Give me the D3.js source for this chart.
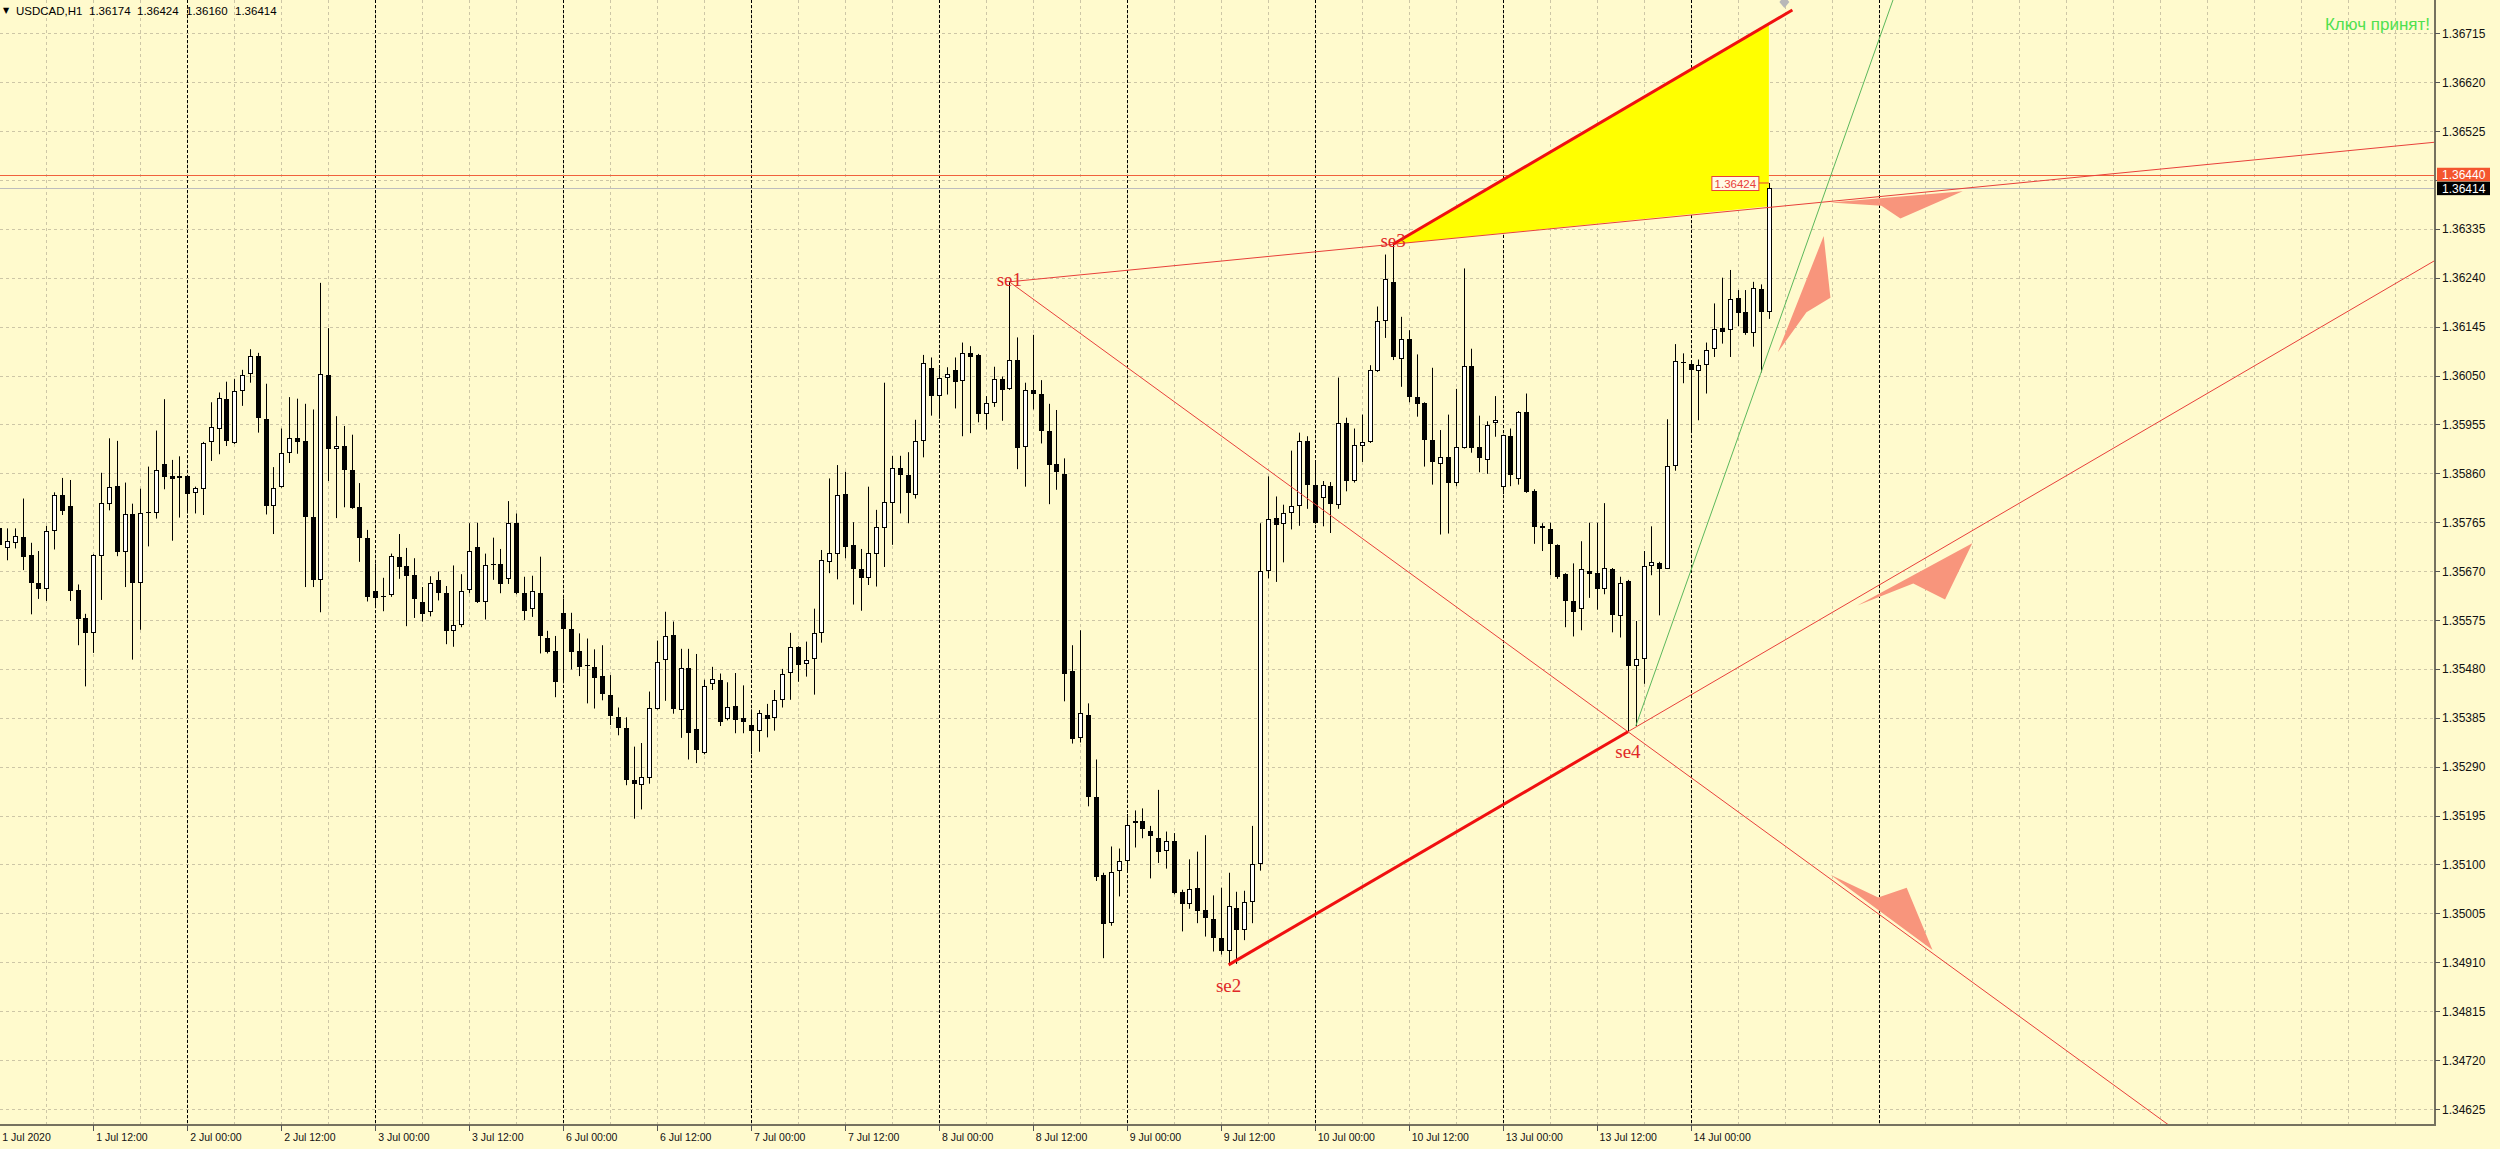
<!DOCTYPE html>
<html><head><meta charset="utf-8">
<script src="https://cdn.jsdelivr.net/npm/d3@7"></script>
<style>html,body{margin:0;padding:0;background:#fffacd;overflow:hidden}</style>
</head><body>
<svg id="chart" width="2500" height="1149"></svg>
<script>
// ---------------- DATA ----------------
const symbolName = "USDCAD,H1";
const timeLabels = ["1 Jul 2020","1 Jul 12:00","2 Jul 00:00","2 Jul 12:00","3 Jul 00:00","3 Jul 12:00","6 Jul 00:00","6 Jul 12:00","7 Jul 00:00","7 Jul 12:00","8 Jul 00:00","8 Jul 12:00","9 Jul 00:00","9 Jul 12:00","10 Jul 00:00","10 Jul 12:00","13 Jul 00:00","13 Jul 12:00","14 Jul 00:00"];
const timeLabelBars = [0,12,24,36,48,60,72,84,96,108,120,132,144,156,168,180,192,204,216];
const daySeparatorBars = [24,48,72,96,120,144,168,192,216,240];
const priceTicks = [1.34625,1.34720,1.34815,1.34910,1.35005,1.35100,1.35195,1.35290,1.35385,1.35480,1.35575,1.35670,1.35765,1.35860,1.35955,1.36050,1.36145,1.36240,1.36335,1.36430,1.36525,1.36620,1.36715];

const openP = [
1.35753,1.35714,1.35725,1.35736,1.35701,1.35647,1.35635,1.35748,1.35817,1.35796,
1.35634,1.35578,1.35550,1.35700,1.35801,1.35836,1.35707,1.35781,1.35647,1.35784,
1.35783,1.35879,1.35854,1.35850,1.35854,1.35821,1.35829,1.35921,1.35947,1.36004,
1.35919,1.36019,1.36052,1.36087,1.35966,1.35797,1.35834,1.35900,1.35928,1.35923,
1.35775,1.35653,1.36051,1.35907,1.35914,1.35867,1.35794,1.35734,1.35631,1.35622,
1.35623,1.35697,1.35679,1.35663,1.35610,1.35590,1.35652,1.35627,1.35554,1.35565,
1.35634,1.35716,1.35610,1.35684,1.35684,1.35654,1.35764,1.35627,1.35596,1.35627,
1.35541,1.35515,1.35589,1.35558,1.35515,1.35487,1.35483,1.35466,1.35429,1.35386,
1.35366,1.35265,1.35255,1.35268,1.35403,1.35497,1.35546,1.35401,1.35481,1.35364,
1.35316,1.35450,1.35459,1.35382,1.35408,1.35384,1.35371,1.35360,1.35391,1.35385,
1.35420,1.35473,1.35522,1.35489,1.35499,1.35550,1.35688,1.35704,1.35819,1.35720,
1.35674,1.35656,1.35704,1.35753,1.35803,1.35870,1.35857,1.35818,1.35923,1.36064,
1.36010,1.36045,1.36061,1.36039,1.36094,1.36089,1.35976,1.35997,1.36043,1.36024,
1.36081,1.35912,1.36021,1.36014,1.35943,1.35878,1.35858,1.35476,1.35346,1.35391,
1.35231,1.35080,1.34986,1.35088,1.35106,1.35181,1.35185,1.35166,1.35152,1.35126,
1.35145,1.35047,1.35023,1.35055,1.35012,1.34994,1.34958,1.34931,1.35016,1.34973,
1.35028,1.35100,1.35670,1.35773,1.35762,1.35782,1.35797,1.35922,1.35837,1.35812,
1.35835,1.35798,1.35957,1.35846,1.35913,1.35921,1.36059,1.36155,1.36232,1.36083,
1.36120,1.36008,1.35996,1.35924,1.35879,1.35892,1.35842,1.35910,1.36068,1.35911,
1.35886,1.35957,1.35833,1.35932,1.35849,1.35979,1.35826,1.35757,1.35752,1.35720,
1.35664,1.35612,1.35597,1.35671,1.35666,1.35635,1.35675,1.35582,1.35650,1.35486,
1.35499,1.35679,1.35685,1.35675,1.35874,1.36076,1.36073,1.36059,1.36071,1.36102,
1.36142,1.36138,1.36201,1.36173,1.36133,1.36218,1.36174];
const highP = [
1.35762,1.35753,1.35753,1.35811,1.35725,1.35709,1.35758,1.35823,1.35851,1.35847,
1.35644,1.35587,1.35703,1.35861,1.35928,1.35923,1.35842,1.35801,1.35830,1.35873,
1.35943,1.36004,1.35886,1.35893,1.35856,1.35834,1.35921,1.35998,1.36017,1.36038,
1.36043,1.36061,1.36101,1.36094,1.36034,1.35872,1.35947,1.36008,1.36005,1.35995,
1.35984,1.36230,1.36142,1.35971,1.35952,1.35935,1.35841,1.35750,1.35685,1.35657,
1.35704,1.35742,1.35715,1.35695,1.35639,1.35660,1.35669,1.35641,1.35681,1.35664,
1.35763,1.35764,1.35704,1.35735,1.35713,1.35806,1.35782,1.35659,1.35661,1.35698,
1.35554,1.35544,1.35617,1.35589,1.35549,1.35539,1.35518,1.35526,1.35468,1.35405,
1.35386,1.35329,1.35336,1.35436,1.35535,1.35591,1.35572,1.35519,1.35519,1.35509,
1.35459,1.35484,1.35471,1.35454,1.35472,1.35448,1.35401,1.35400,1.35412,1.35439,
1.35480,1.35550,1.35524,1.35533,1.35597,1.35711,1.35850,1.35876,1.35863,1.35765,
1.35713,1.35834,1.35789,1.36036,1.35894,1.35894,1.35901,1.35964,1.36090,1.36085,
1.36064,1.36066,1.36085,1.36114,1.36107,1.36092,1.36010,1.36067,1.36048,1.36232,
1.36124,1.36036,1.36129,1.36041,1.35995,1.35983,1.35889,1.35526,1.35555,1.35413,
1.35304,1.35084,1.35135,1.35131,1.35198,1.35205,1.35209,1.35175,1.35245,1.35164,
1.35161,1.35051,1.35110,1.35125,1.35157,1.35040,1.35055,1.35084,1.35047,1.35049,
1.35175,1.35763,1.35854,1.35815,1.35799,1.35904,1.35939,1.35932,1.35885,1.35845,
1.35843,1.36046,1.35968,1.35947,1.35974,1.36070,1.36184,1.36285,1.36307,1.36164,
1.36138,1.36091,1.35998,1.36065,1.35944,1.35974,1.36024,1.36258,1.36102,1.35972,
1.35961,1.36010,1.35935,1.35947,1.35981,1.36015,1.35829,1.35763,1.35764,1.35722,
1.35666,1.35685,1.35728,1.35764,1.35764,1.35802,1.35676,1.35659,1.35653,1.35573,
1.35709,1.35757,1.35688,1.35965,1.36111,1.36093,1.36077,1.36081,1.36114,1.36190,
1.36240,1.36255,1.36216,1.36216,1.36232,1.36227,1.36424];
const lowP = [
1.35714,1.35691,1.35714,1.35672,1.35586,1.35616,1.35612,1.35712,1.35779,1.35612,
1.35526,1.35446,1.35511,1.35614,1.35788,1.35699,1.35639,1.35498,1.35556,1.35718,
1.35772,1.35829,1.35729,1.35774,1.35782,1.35782,1.35779,1.35884,1.35897,1.35913,
1.35917,1.35991,1.36036,1.35939,1.35780,1.35742,1.35832,1.35880,1.35898,1.35639,
1.35639,1.35590,1.35845,1.35773,1.35794,1.35791,1.35688,1.35611,1.35604,1.35592,
1.35620,1.35655,1.35563,1.35579,1.35572,1.35582,1.35613,1.35528,1.35523,1.35561,
1.35627,1.35608,1.35576,1.35653,1.35627,1.35645,1.35625,1.35575,1.35581,1.35510,
1.35510,1.35425,1.35452,1.35479,1.35466,1.35413,1.35403,1.35419,1.35371,1.35351,
1.35254,1.35189,1.35207,1.35257,1.35401,1.35418,1.35393,1.35346,1.35304,1.35297,
1.35314,1.35439,1.35369,1.35380,1.35355,1.35355,1.35314,1.35319,1.35347,1.35360,
1.35405,1.35420,1.35455,1.35465,1.35430,1.35531,1.35666,1.35654,1.35695,1.35605,
1.35593,1.35643,1.35640,1.35678,1.35721,1.35782,1.35763,1.35811,1.35891,1.35972,
1.35966,1.36013,1.35986,1.35932,1.35938,1.35959,1.35945,1.35989,1.35962,1.36022,
1.35868,1.35834,1.35984,1.35918,1.35800,1.35828,1.35417,1.35335,1.35337,1.35213,
1.35068,1.34918,1.34981,1.35038,1.35086,1.35133,1.35151,1.35073,1.35103,1.35092,
1.35042,1.34970,1.35014,1.34986,1.34960,1.34931,1.34925,1.34905,1.34907,1.34953,
1.34986,1.35088,1.35656,1.35649,1.35687,1.35751,1.35758,1.35791,1.35762,1.35757,
1.35744,1.35791,1.35825,1.35842,1.35882,1.35919,1.36057,1.36123,1.36080,1.36028,
1.35998,1.35970,1.35873,1.35838,1.35741,1.35743,1.35835,1.35908,1.35900,1.35862,
1.35859,1.35931,1.35820,1.35835,1.35838,1.35822,1.35723,1.35709,1.35662,1.35655,
1.35561,1.35543,1.35555,1.35618,1.35595,1.35625,1.35551,1.35541,1.35358,1.35369,
1.35451,1.35662,1.35584,1.35674,1.35865,1.36035,1.35943,1.35963,1.36015,1.36086,
1.36112,1.36086,1.36146,1.36129,1.36106,1.36056,1.36160];
const closeP = [
1.35720,1.35729,1.35738,1.35697,1.35647,1.35636,1.35748,1.35817,1.35787,1.35631,
1.35576,1.35550,1.35701,1.35802,1.35834,1.35707,1.35781,1.35647,1.35782,1.35782,
1.35866,1.35852,1.35848,1.35854,1.35820,1.35832,1.35918,1.35949,1.36006,1.35923,
1.36019,1.36051,1.36087,1.35967,1.35797,1.35832,1.35900,1.35928,1.35921,1.35775,
1.35652,1.36053,1.35907,1.35914,1.35867,1.35792,1.35734,1.35620,1.35618,1.35620,
1.35699,1.35678,1.35661,1.35615,1.35587,1.35647,1.35627,1.35554,1.35566,1.35632,
1.35709,1.35610,1.35682,1.35681,1.35645,1.35764,1.35627,1.35592,1.35632,1.35543,
1.35513,1.35455,1.35557,1.35513,1.35483,1.35485,1.35463,1.35431,1.35388,1.35365,
1.35264,1.35257,1.35270,1.35404,1.35493,1.35544,1.35403,1.35481,1.35356,1.35323,
1.35447,1.35460,1.35376,1.35406,1.35380,1.35377,1.35360,1.35395,1.35382,1.35420,
1.35471,1.35522,1.35487,1.35497,1.35550,1.35691,1.35706,1.35817,1.35717,1.35675,
1.35656,1.35706,1.35756,1.35805,1.35870,1.35856,1.35821,1.35923,1.36075,1.36010,
1.36046,1.36052,1.36038,1.36094,1.36085,1.35975,1.35997,1.36043,1.36022,1.36081,
1.35910,1.36021,1.36015,1.35943,1.35876,1.35863,1.35470,1.35344,1.35394,1.35231,
1.35075,1.34984,1.35086,1.35106,1.35177,1.35185,1.35168,1.35155,1.35125,1.35145,
1.35045,1.35023,1.35053,1.35010,1.34996,1.34958,1.34932,1.35019,1.34973,1.35027,
1.35100,1.35670,1.35772,1.35760,1.35782,1.35797,1.35922,1.35838,1.35764,1.35837,
1.35801,1.35957,1.35846,1.35915,1.35921,1.36060,1.36155,1.36237,1.36086,1.36120,
1.36008,1.35995,1.35924,1.35882,1.35892,1.35842,1.35912,1.36068,1.35910,1.35889,
1.35953,1.35963,1.35934,1.35856,1.35979,1.35823,1.35756,1.35754,1.35722,1.35659,
1.35612,1.35590,1.35675,1.35664,1.35635,1.35676,1.35584,1.35647,1.35486,1.35499,
1.35679,1.35688,1.35674,1.35874,1.36079,1.36074,1.36060,1.36071,1.36099,1.36140,
1.36134,1.36198,1.36172,1.36132,1.36220,1.36174,1.36414];

// analysis objects (bar index, price)
const pivotNames  = ["se1","se2","se3","se4"];
const pivotBars   = [129, 157, 178, 208];
const pivotPrices = [1.36232, 1.34905, 1.36305, 1.35358];
const thickUpperEnd = [229, 1.36760];
const triangleBars   = [178, 226, 226];
const trianglePrices = [1.36305, 1.36735, 1.36379];
const greenBars   = [209, 225];
const greenPrices = [1.35369, 1.36056];
const redLevel = 1.36440;
const arrowShapes = [
  [[250.75,1.36408],[233.86,1.36386],[240.37,1.36380],[242.8,1.36355]],
  [[233.0,1.36321],[233.86,1.36201],[230.8,1.36173],[227.14,1.36095]],
  [[251.98,1.35724],[237.3,1.35603],[244.44,1.35646],[248.5,1.35615]],
  [[246.9,1.34934],[233.86,1.35080],[239.96,1.35036],[243.6,1.35055]]
];
const statusText = "Ключ принят!";

// ---------------- LAYOUT ----------------
const W = 2500, H = 1149;
const plotR = 2435, plotB = 1125;
const x = d3.scaleLinear().domain([0, 311]).range([-0.7, -0.7 + 7.83*311]);
const y = d3.scaleLinear().domain([1.34625, 1.36715]).range([1109, 33.2]);
const lastBar = openP.length - 1;

const svg = d3.select("#chart");
svg.append("rect").attr("width", W).attr("height", H).attr("fill", "#fffacd");
svg.append("defs").append("clipPath").attr("id","clip")
  .append("rect").attr("x",0).attr("y",0).attr("width",plotR).attr("height",plotB);
const plot = svg.append("g").attr("clip-path","url(#clip)");

// grid
const gridBars = d3.range(0, 312, 6);
plot.append("g").selectAll("line").data(gridBars).join("line")
  .attr("x1", d => Math.round(x(d))+0.5).attr("x2", d => Math.round(x(d))+0.5)
  .attr("y1", 0).attr("y2", plotB)
  .attr("stroke", "#cdc6a6").attr("stroke-width", 1).attr("stroke-dasharray", "3,3");
plot.append("g").selectAll("line").data(priceTicks).join("line")
  .attr("x1", 0).attr("x2", plotR)
  .attr("y1", d => Math.round(y(d))+0.5).attr("y2", d => Math.round(y(d))+0.5)
  .attr("stroke", "#cdc6a6").attr("stroke-width", 1).attr("stroke-dasharray", "3,3");
// day separators
plot.append("g").selectAll("line").data(daySeparatorBars).join("line")
  .attr("x1", d => Math.round(x(d))+0.5).attr("x2", d => Math.round(x(d))+0.5)
  .attr("y1", 0).attr("y2", plotB)
  .attr("stroke", "#000").attr("stroke-width", 1).attr("stroke-dasharray", "3,2");

// horizontal level + bid line
plot.append("line").attr("x1",0).attr("x2",plotR)
  .attr("y1", Math.round(y(redLevel))+0.5).attr("y2", Math.round(y(redLevel))+0.5)
  .attr("stroke", "#f0603c").attr("stroke-width", 1);
const bid = closeP[lastBar];
plot.append("line").attr("x1",0).attr("x2",plotR)
  .attr("y1", Math.round(y(bid))+0.5).attr("y2", Math.round(y(bid))+0.5)
  .attr("stroke", "#bdbdbd").attr("stroke-width", 1);

// yellow triangle
plot.append("polygon")
  .attr("points", triangleBars.map((b,i) => [x(b), y(trianglePrices[i])].join(",")).join(" "))
  .attr("fill", "#ffff00");

// candles
const bars = d3.range(openP.length).map(i => ({i, o:openP[i], h:highP[i], l:lowP[i], c:closeP[i]}));
const cg = plot.append("g");
bars.forEach(b => {
  const cx = Math.round(x(b.i));
  cg.append("line").attr("x1", cx+0.5).attr("x2", cx+0.5)
    .attr("y1", y(b.h)).attr("y2", y(b.l)).attr("stroke", "#000").attr("stroke-width", 1);
  const top = Math.round(y(Math.max(b.o,b.c))), bot = Math.round(y(Math.min(b.o,b.c)));
  const hgt = Math.max(1, bot - top);
  if (b.c >= b.o) {
    cg.append("rect").attr("x", cx-1.5).attr("y", top+0.5).attr("width", 4).attr("height", Math.max(0.01,hgt-1))
      .attr("fill", "#fff").attr("stroke", "#000").attr("stroke-width", 1);
  } else {
    cg.append("rect").attr("x", cx-2).attr("y", top).attr("width", 5).attr("height", hgt).attr("fill", "#000");
  }
});

// trend lines
function ext(b1, p1, b2, p2, bTo) {
  const p = p1 + (p2 - p1) * (bTo - b1) / (b2 - b1);
  return [x(bTo), y(p)];
}
const lg = plot.append("g").attr("fill", "none");
const P = i => [pivotBars[i], pivotPrices[i]];
// se1 -> se3 ray
lg.append("line").attr("x1", x(pivotBars[0])).attr("y1", y(pivotPrices[0]))
  .attr("x2", ext(...P(0), ...P(2), 330)[0]).attr("y2", ext(...P(0), ...P(2), 330)[1])
  .attr("stroke", "#e8403a").attr("stroke-width", 1);
// se1 -> se4 ray
lg.append("line").attr("x1", x(pivotBars[0])).attr("y1", y(pivotPrices[0]))
  .attr("x2", ext(...P(0), ...P(3), 330)[0]).attr("y2", ext(...P(0), ...P(3), 330)[1])
  .attr("stroke", "#e8403a").attr("stroke-width", 1);
// se2 -> se4 ray (thin beyond se4)
lg.append("line").attr("x1", x(pivotBars[3])).attr("y1", y(pivotPrices[3]))
  .attr("x2", ext(...P(1), ...P(3), 330)[0]).attr("y2", ext(...P(1), ...P(3), 330)[1])
  .attr("stroke", "#e8403a").attr("stroke-width", 1);
// green ray
lg.append("line").attr("x1", x(greenBars[0])).attr("y1", y(greenPrices[0]))
  .attr("x2", ext(greenBars[0], greenPrices[0], greenBars[1], greenPrices[1], 300)[0])
  .attr("y2", ext(greenBars[0], greenPrices[0], greenBars[1], greenPrices[1], 300)[1])
  .attr("stroke", "#5cb85c").attr("stroke-width", 1);
// thick segments
lg.append("line").attr("x1", x(pivotBars[1])).attr("y1", y(pivotPrices[1]))
  .attr("x2", x(pivotBars[3])).attr("y2", y(pivotPrices[3]))
  .attr("stroke", "#f01010").attr("stroke-width", 3);
lg.append("line").attr("x1", x(pivotBars[2])).attr("y1", y(pivotPrices[2]))
  .attr("x2", x(thickUpperEnd[0])).attr("y2", y(thickUpperEnd[1]))
  .attr("stroke", "#f01010").attr("stroke-width", 3);
// small grey end marker
plot.append("polygon")
  .attr("points", (() => { const cx = x(thickUpperEnd[0]) - 8, cy = y(thickUpperEnd[1]) - 8;
     return [[cx,cy-6],[cx+5,cy],[cx,cy+6],[cx-5,cy]].map(p=>p.join(",")).join(" "); })())
  .attr("fill", "#b8b8b8");

// salmon arrows
plot.append("g").selectAll("polygon").data(arrowShapes).join("polygon")
  .attr("points", d => d.map(p => [x(p[0]), y(p[1])].join(",")).join(" "))
  .attr("fill", "#f8957c");

// pivot labels
const labelDy = [4, 27, 3, 26];
plot.append("g").selectAll("text").data(pivotNames).join("text")
  .attr("x", (d,i) => x(pivotBars[i]))
  .attr("y", (d,i) => y(pivotPrices[i]) + labelDy[i])
  .attr("text-anchor", "middle")
  .attr("font-family", "Liberation Serif, Times New Roman, serif")
  .attr("font-size", 19).attr("fill", "#e02828").text(d => d);

// last high price label
const lhx = x(lastBar), lhy = y(highP[lastBar]);
plot.append("polyline")
  .attr("points", `${lhx-10},${lhy} ${lhx},${lhy}`)
  .attr("fill","none").attr("stroke","#e8403a").attr("stroke-width",1);
plot.append("rect").attr("x", lhx-57).attr("y", Math.round(lhy)-6.5).attr("width", 47).attr("height", 14)
  .attr("fill", "#fffbe6").attr("stroke", "#e8403a").attr("stroke-width", 1);
plot.append("text").attr("x", lhx-33.5).attr("y", Math.round(lhy)+4.5).attr("text-anchor","middle")
  .attr("font-family","Liberation Sans, Arial, sans-serif").attr("font-size",11.5)
  .attr("fill","#e8403a").text(highP[lastBar].toFixed(5));

// axes
svg.append("line").attr("x1",0).attr("x2",plotR+1).attr("y1",plotB).attr("y2",plotB)
  .attr("stroke","#75715f").attr("stroke-width",2);
svg.append("line").attr("x1",plotR).attr("x2",plotR).attr("y1",0).attr("y2",plotB)
  .attr("stroke","#75715f").attr("stroke-width",2);

// right axis labels
const boxYs = [y(redLevel), y(bid)];
const shownTicks = priceTicks.filter(p => boxYs.every(by => Math.abs(y(p) - by) > 11));
svg.append("g").selectAll("line").data(priceTicks).join("line")
  .attr("x1", plotR).attr("x2", plotR+5)
  .attr("y1", d => Math.round(y(d))+0.5).attr("y2", d => Math.round(y(d))+0.5)
  .attr("stroke","#555").attr("stroke-width",1);
svg.append("g").selectAll("text").data(shownTicks).join("text")
  .attr("x", plotR+7).attr("y", d => y(d)+4.5)
  .attr("font-family","Liberation Sans, Arial, sans-serif").attr("font-size",12)
  .attr("fill","#111").text(d => d.toFixed(5));
// level boxes
svg.append("rect").attr("x", plotR+2).attr("y", y(redLevel)-7).attr("width", 53).attr("height", 13.5).attr("fill","#f4552e");
svg.append("text").attr("x", plotR+7).attr("y", y(redLevel)+4.5)
  .attr("font-family","Liberation Sans, Arial, sans-serif").attr("font-size",12)
  .attr("fill","#fff").text(redLevel.toFixed(5));
svg.append("rect").attr("x", plotR+2).attr("y", y(bid)-6.5).attr("width", 53).attr("height", 13.5).attr("fill","#000");
svg.append("text").attr("x", plotR+7).attr("y", y(bid)+4.5)
  .attr("font-family","Liberation Sans, Arial, sans-serif").attr("font-size",12)
  .attr("fill","#fff").text(bid.toFixed(5));

// bottom axis labels
svg.append("g").selectAll("line").data(timeLabelBars).join("line")
  .attr("x1", d => Math.round(x(d))+0.5).attr("x2", d => Math.round(x(d))+0.5)
  .attr("y1", plotB).attr("y2", plotB+6).attr("stroke","#555");
svg.append("g").selectAll("text").data(timeLabels).join("text")
  .attr("x", (d,i) => Math.max(1, x(timeLabelBars[i]) + 3))
  .attr("y", plotB + 16)
  .attr("font-family","Liberation Sans, Arial, sans-serif").attr("font-size",10.5)
  .attr("fill","#111").text(d => d);

// header
svg.append("text").attr("x",3).attr("y",13).attr("font-family","DejaVu Sans, sans-serif")
  .attr("font-size",8).attr("fill","#000").text("▼");
const hdr = [symbolName, openP[lastBar].toFixed(5), highP[lastBar].toFixed(5), lowP[lastBar].toFixed(5), closeP[lastBar].toFixed(5)];
const hdrX = [16, 89, 137, 186, 235];
svg.append("g").selectAll("text").data(hdr).join("text")
  .attr("x", (d,i) => hdrX[i]).attr("y", 15)
  .attr("font-family","Liberation Sans, Arial, sans-serif").attr("font-size",11.5)
  .attr("fill","#000").text(d => d);

// status text
svg.append("text").attr("x", 2430).attr("y", 30).attr("text-anchor","end")
  .attr("font-family","Liberation Sans, Arial, sans-serif").attr("font-size",17)
  .attr("fill","#4fe04f").text(statusText);
</script>
</body></html>
